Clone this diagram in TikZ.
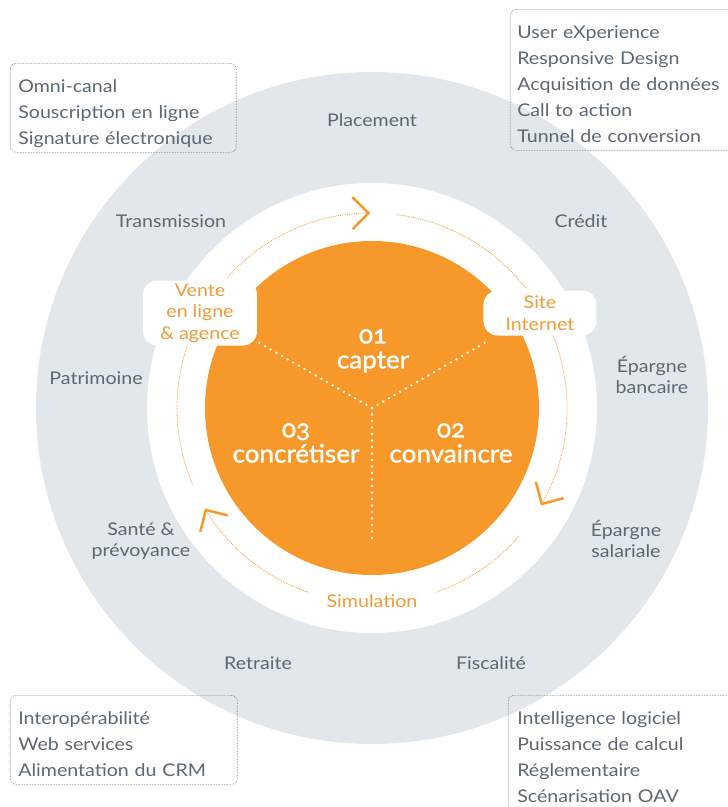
\documentclass[tikz,border=0pt]{standalone}
\usepackage{fontspec}
\setmainfont{Lato}[FakeStretch=1.12]
\newfontfamily\stagefont{Lato}[FakeStretch=1.04, FakeBold=1.2, Numbers=OldStyle]
\usepackage{tikz}
\usetikzlibrary{arrows.meta}
\usetikzlibrary{positioning}

\definecolor{ringgray}{HTML}{E2E7EB}
\definecolor{textgray}{HTML}{5B6873}
\definecolor{orangemain}{HTML}{F7982A}
\definecolor{orangetext}{HTML}{F39B36}
\definecolor{boxgray}{HTML}{6E7680}

\begin{document}
\begin{tikzpicture}[x=1pt,y=1pt,semithick]
 \tikzstyle{lbl}=[text=textgray, font=\fontsize{17.5}{21}\selectfont, align=center]
 \tikzstyle{stage}=[text=white, font=\stagefont\fontsize{25}{25}\selectfont, align=center]
 \tikzstyle{chan}=[fill=white, rounded corners=14pt, inner sep=2pt, text=orangetext, font=\fontsize{17.5}{21.5}\selectfont, align=center]
 \tikzstyle{infobox}=[draw=boxgray, densely dotted, line width=0.6pt, rounded corners=6pt, text=textgray,
   font=\fontsize{17.5}{26}\selectfont, align=left, anchor=north west, inner ysep=0pt,
   execute at begin node={\rule{0pt}{29pt}}, execute at end node={\rule[-8pt]{0pt}{8pt}}]
 \tikzstyle{flow}=[orangemain, densely dotted, line width=0.8pt]
 \tikzstyle{flowtip}=[-{Straight Barb[length=16pt,width=32pt,line width=2.5pt]}]
 \tikzstyle{cut}=[white, line width=2.6pt, line cap=round, dash pattern=on 0pt off 6.5pt]

 \useasboundingbox (-372,-399) rectangle (356,408);

 % discs
 \fill[ringgray] (0,0) circle (336);
 \fill[white] (0,0) circle (225);
 \fill[orangemain] (0,0) circle (167);

 % three stages
 \coordinate (hub) at (0,0);
 \coordinate (cut1) at (150:132);
 \coordinate (cut2) at (30:132);
 \coordinate (cut3) at (270:131);
 \draw[cut] (hub) -- (cut1);
 \draw[cut] (hub) -- (cut2);
 \draw[cut] (hub) -- (cut3);
 \node[stage] (capter) at (1,57) {01\\capter};
 \node[stage] (convaincre) at (79,-35) {02\\convaincre};
 \node[stage] (concretiser) at (-76,-35) {03\\concrétiser};

 % cycle
 \draw[flow,flowtip] (138:195) arc[start angle=138, end angle=90.5, radius=195];
 \draw[flow] (82.6:195) arc[start angle=82.6, end angle=38, radius=195];
 \draw[flow,flowtip] (22:195) arc[start angle=22, end angle=-30, radius=195];
 \draw[flow] (-41:195) arc[start angle=-41, end angle=-71, radius=195];
 \draw[flow,flowtip] (-109:195) arc[start angle=-109, end angle=-149, radius=195];
 \draw[flow] (161.5:195) arc[start angle=161.5, end angle=203, radius=195];

 \node[chan, minimum width=114pt, minimum height=65pt] (vente) at (-172,95) {Vente\\en ligne\\\& agence};
 \node[chan, minimum width=113pt, minimum height=45pt] (site) at (168,95) {Site\\Internet};
 \node[chan, fill=none] (simul) at (0,-193) {Simulation};

 % ring labels
 \node[lbl] (placement) at (0,288) {Placement};
 \node[lbl] (credit) at (209,187) {Crédit};
 \node[lbl] (bancaire) at (280,33) {Épargne\\bancaire};
 \node[lbl] (salariale) at (254,-131) {Épargne\\salariale};
 \node[lbl] (fiscalite) at (119,-255) {Fiscalité};
 \node[lbl] (retraite) at (-114,-255) {Retraite};
 \node[lbl] (sante) at (-231,-133) {Santé \&\\prévoyance};
 \node[lbl] (patrimoine) at (-276,30) {Patrimoine};
 \node[lbl] (transmission) at (-201,187) {Transmission};

 % corner boxes
 \node[infobox, text width=210pt, inner xsep=8pt] (omni) at (-362,345)
   {Omni-canal\\Souscription en ligne\\Signature électronique};
 \node[infobox, text width=226pt, inner xsep=7pt] (ux) at (138,399)
   {User eXperience\\Responsive Design\\Acquisition de données\\Call to action\\Tunnel de conversion};
 \node[infobox, text width=211pt, inner xsep=8pt] (interop) at (-362,-287)
   {Interopérabilité\\Web services\\Alimentation du CRM};
 \node[infobox, text width=226pt, inner xsep=9pt] (calc) at (136,-287)
   {Intelligence logiciel\\Puissance de calcul\\Réglementaire\\Scénarisation OAV};
\end{tikzpicture}
\end{document}
